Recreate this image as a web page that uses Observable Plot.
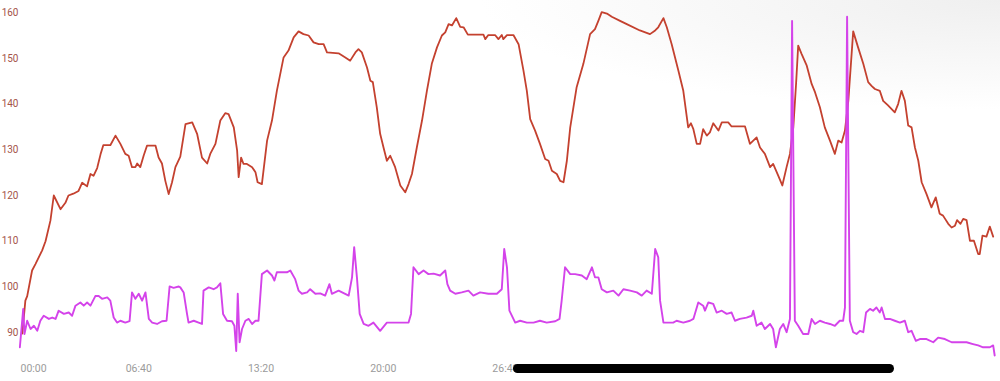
<!DOCTYPE html>
<html>
<head>
<meta charset="utf-8">
<script src="https://cdn.jsdelivr.net/npm/d3@7"></script>
<script src="https://cdn.jsdelivr.net/npm/@observablehq/plot@0.6"></script>
<style>
  html, body { margin: 0; padding: 0; background: #fff; }
  #wrap { position: relative; width: 1000px; height: 381px; overflow: hidden;
    background: radial-gradient(ellipse 520px 110px at 100% 0%, #efefef 0%, #ffffff 100%); }
  #wrap svg { display: block; background: transparent; }
  #bar { position: absolute; left: 513px; top: 364px; width: 381px; height: 9px; border-radius: 4.5px; background: #000; }
</style>
</head>
<body>
<div id="wrap"></div>
<script>
// elapsed time in seconds, value
const redTimes = [19,29,35,51,62,84,95,111,122,144,160,170,186,203,215,231,242,252,264,275,284,307,324,340,356,367,378,389,395,405,416,427,455,465,476,487,498,509,520,536,553,575,591,607,624,634,651,667,683,694,711,722,727,735,743,754,771,782,789,803,820,836,852,874,890,907,923,939,956,972,989,1005,1016,1054,1076,1092,1109,1119,1130,1147,1158,1166,1179,1190,1201,1212,1223,1239,1256,1272,1283,1294,1310,1327,1343,1359,1376,1392,1403,1414,1425,1439,1452,1463,1477,1528,1534,1544,1566,1577,1588,1593,1605,1626,1643,1659,1670,1681,1697,1713,1730,1741,1752,1768,1779,1790,1801,1812,1833,1855,1877,1893,1904,1915,1932,1948,1975,1997,2040,2073,2090,2100,2117,2128,2144,2166,2182,2198,2207,2215,2226,2237,2247,2259,2269,2280,2297,2308,2329,2340,2384,2400,2411,2422,2433,2449,2466,2476,2493,2506,2520,2531,2542,2551,2558,2569,2586,2602,2613,2629,2645,2662,2678,2689,2700,2711,2722,2738,2754,2771,2787,2798,2809,2825,2836,2852,2874,2885,2896,2907,2918,2929,2940,2951,2962,2978,2994,3008,3021,3032,3049,3060,3071,3078,3089,3098,3109,3120,3133,3147,3152,3161,3174,3185,3196];
const redValues = [89.8,97,98,103.6,105,108,110,114.5,120,117,118.4,120,120.4,121,122.8,122,124.7,124.3,126,129,131,131,133.1,131.3,129.1,128.7,126.2,126.2,127,126.2,128.7,130.9,130.9,128.3,127,123.2,120.3,122.9,126.2,128.5,135.6,136,133.5,128.3,127,129.1,131.3,136.4,138,137.8,134.9,129.8,124,128.3,126.9,126.9,126.2,125.1,122.9,122.5,132,136.4,142.9,150.2,151.7,154.6,155.9,155.3,155,153.5,153.1,153.1,151.3,151.1,150.2,149.5,151.3,152,151.3,148,145.1,144.8,139.3,133.5,130.5,127.6,128.7,126.2,122.2,120.7,122.5,124.7,130.5,136.4,142.9,148.8,152.4,155,155.7,157.5,157.2,158.8,156.9,156.8,155.2,155.2,154.2,155.1,155.1,154.2,155.1,154.2,155.1,155.1,153.1,147.3,142.9,136.7,134.2,131.3,128,127.6,125.4,124.7,123.2,122.9,127.6,134.9,143.7,148.8,155.3,156.4,158.2,160.1,159.8,159.1,158.2,157.5,156.1,155.3,156.1,156.8,158.8,156.8,153.1,147.3,142.9,134.9,135.8,134.5,131.3,131.3,134.5,133.1,133.8,135.8,134.2,136,136,135.1,135.1,131.3,132,132.7,130.5,129.1,126.2,126.9,124.3,122.2,126.2,129.1,134.9,144.4,152.8,151,148.4,144.4,142.6,139.3,134.9,132,129.1,132,131.6,134.2,140.7,155.9,152.4,148.8,144.8,144,143.3,142.9,140.7,139.7,138.2,140,142.9,140.7,135.3,134.9,130.5,127.6,122.9,120.3,117.4,119.6,116,115.6,113.8,113,113.4,114.6,113.8,114.9,114.6,110.1,110.1,107.2,107.2,111.2,111,113.2,111];

const pinkTimes = [11,22,26,35,46,57,68,78,89,106,117,128,138,155,171,182,193,209,220,231,242,258,269,280,297,307,318,329,340,356,370,378,389,400,411,422,433,444,460,476,491,501,514,531,536,547,558,563,580,596,607,612,629,645,656,667,676,689,705,713,719,724,730,738,749,760,771,782,792,803,820,836,844,852,869,885,896,912,923,934,951,961,978,994,1010,1024,1032,1054,1087,1098,1105,1114,1123,1136,1152,1168,1190,1212,1234,1256,1283,1291,1299,1316,1332,1348,1365,1386,1403,1410,1419,1436,1457,1479,1495,1517,1544,1572,1588,1596,1605,1613,1632,1648,1670,1692,1713,1735,1763,1777,1784,1795,1812,1828,1850,1866,1883,1893,1904,1915,1932,1953,1970,1986,2008,2030,2046,2062,2079,2090,2100,2106,2117,2133,2149,2160,2182,2204,2215,2231,2247,2253,2264,2280,2291,2308,2324,2340,2351,2367,2389,2406,2411,2422,2438,2449,2466,2476,2485,2498,2509,2520,2531,2538,2547,2558,2574,2591,2602,2613,2629,2645,2662,2678,2694,2705,2711,2718,2727,2738,2749,2760,2771,2780,2793,2803,2814,2825,2831,2842,2858,2874,2891,2907,2918,2929,2943,2956,2978,3000,3016,3038,3060,3081,3109,3130,3147,3163,3185,3196,3201];
const pinkValues = [86.8,95.2,89.7,92.6,90.8,91.5,90.4,92.6,93.7,93,93.3,93,94.8,94.1,94.4,93.7,95.9,96.6,95.9,96.6,95.9,98,98,97.4,97.7,97,93.3,92.2,92.6,92.2,92.5,98.8,97.4,98.5,97,98.8,93,92.2,91.9,92.5,92.6,100.1,99.8,100.1,99.9,98.8,94.1,92.2,92.6,92.2,91.9,99.2,99.9,99.5,99.9,100.8,94.1,92.6,92.5,91.5,86,98.5,87.9,90.8,92.6,93,91.9,92.6,92.6,102.8,103.6,102.5,101.4,103.2,103.2,103.2,103.6,101.7,99.2,98.5,98.8,99.5,98.5,98.6,98.1,100.6,98.5,99.2,98.1,102.1,108.7,102.1,94.1,91.9,91.5,92.2,90.4,92.2,92.2,92.2,92.2,94.1,104.3,102.8,103.6,102.8,102.9,102.5,103.6,100.6,99.2,98.5,98.8,99.2,98.1,98.8,98.5,98.5,99.5,108.3,104.3,94.8,92.2,92.6,92.2,92.2,92.6,92.2,92.5,93,97,104.3,102.8,102.8,102.5,101.7,104.3,102.1,102.1,99.5,98.8,99.2,98.1,99.5,99.2,98.8,98.1,99.2,98.5,108.3,106.5,97,92.2,92.2,92.2,92.6,92.2,92.6,93,96.6,95.9,94.8,96.6,96.3,94.4,94.8,94.1,94.4,92.6,93,93.3,93.7,94.8,91.5,92.2,90.8,91.9,90.8,86.8,90.8,91.9,90.1,93,158.2,92.6,91.5,89.7,89.7,93,91.9,92.6,92.2,91.9,91.5,92.6,92.6,95.5,159.1,92.6,90.1,89.7,90.4,90.1,94.4,95.2,94.8,95.5,94.4,95.5,93,93,92.6,92.2,92.6,90.1,90.4,88.2,88.6,88.6,87.9,88.9,88.6,87.9,87.9,87.9,87.5,87.2,86.8,86.8,87.2,85];

const yTicks = [90, 100, 110, 120, 130, 140, 150, 160];
const xTicks = [0, 400, 800, 1200, 1600, 2000, 2400, 2800];

const redSeries = redTimes.map((t, i) => ({t, v: redValues[i]}));
const pinkSeries = pinkTimes.map((t, i) => ({t, v: pinkValues[i]}));

const fmt = s => String(Math.floor(s / 60)).padStart(2, "0") + ":" + String(s % 60).padStart(2, "0");

const chart = Plot.plot({
  width: 1000,
  height: 381,
  marginLeft: 16,
  marginRight: 0,
  marginTop: 3,
  marginBottom: 26,
  style: {fontFamily: "Roboto, Inter, sans-serif", fontSize: "10px", background: "transparent"},
  x: {domain: [0, 3220], axis: null},
  y: {domain: [85, 162], axis: null},
  marks: [
    Plot.axisY(yTicks, {label: null, tickSize: 0, tickPadding: -2, color: "#a4544a", fontSize: 10}),
    Plot.axisX([0], {label: null, tickSize: 0, tickPadding: 9, color: "#9b9b9b", tickFormat: fmt, textAnchor: "start", dx: 4, fontSize: 10.5}),
    Plot.axisX(xTicks.slice(1), {label: null, tickSize: 0, tickPadding: 9, color: "#9b9b9b", tickFormat: fmt, fontSize: 10.5}),
    Plot.line(redSeries, {x: "t", y: "v", stroke: "#c4412f", strokeWidth: 1.8}),
    Plot.line(pinkSeries, {x: "t", y: "v", stroke: "#d443ea", strokeWidth: 1.9})
  ]
});
const wrap = document.getElementById("wrap");
wrap.appendChild(chart);
const bar = document.createElement("div");
bar.id = "bar";
wrap.appendChild(bar);
</script>
</body>
</html>
